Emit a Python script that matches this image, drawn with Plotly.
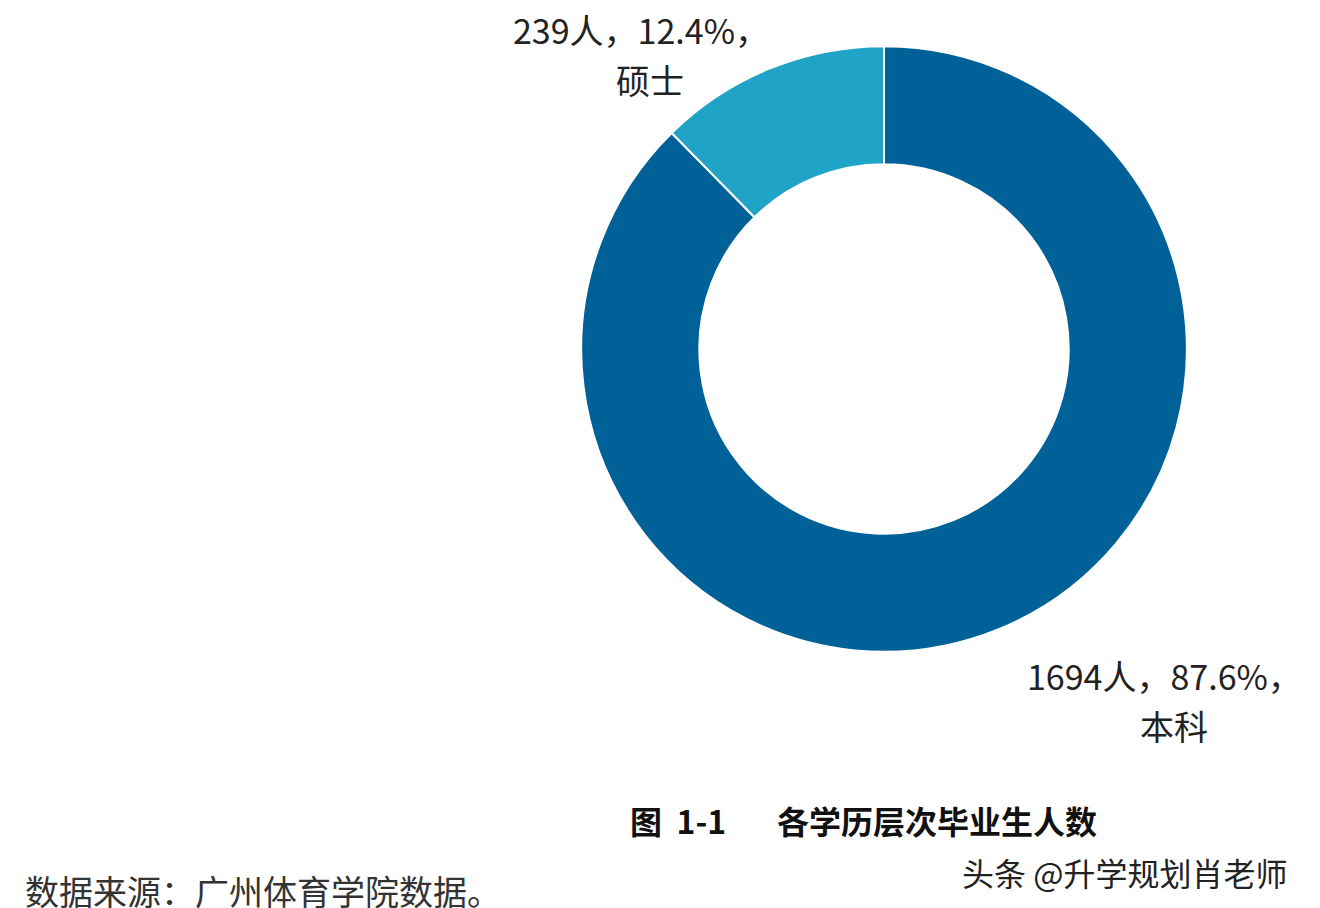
import plotly.graph_objects as go

labels = ["本科", "硕士"]
values = [1694, 239]
pcts = ["87.6%", "12.4%"]
colors = ["#006199", "#1fa3c6"]

fig = go.Figure(go.Pie(
    labels=labels, values=values, hole=0.61, sort=False, direction="clockwise",
    rotation=0, marker=dict(colors=colors, line=dict(color="white", width=2)),
    textinfo="none", hoverinfo="label+value",
    domain=dict(x=[0.4341, 0.8932], y=[0.291, 0.958]), showlegend=False))

F = "Noto Sans CJK SC"
ann = [
    (503, 22, f"{values[1]}人，{pcts[1]}，", 34, "#222", False, "left"),
    (606, 72, labels[1], 34, "#222", False, "left"),
    (1017, 667, f"{values[0]}人，{pcts[0]}，", 34, "#222", False, "left"),
    (1130, 717, labels[0], 34, "#222", False, "left"),
    (620, 812, "图  1-1       各学历层次毕业生人数", 32, "#111", True, "left"),
    (15, 882, "数据来源：广州体育学院数据。", 34, "#333", False, "left"),
    (952, 864, "头条 @升学规划肖老师", 32, "#222", False, "left"),
]
for x, y, t, s, c, b, a in ann:
    fig.add_annotation(x=x/1320, y=1-y/908, xref="paper", yref="paper", text=f"<b>{t}</b>" if b else t,
                       showarrow=False, font=dict(family=F, size=s, color=c), xanchor=a, yanchor="middle")

fig.update_layout(width=1320, height=908, margin=dict(l=0, r=0, t=0, b=0),
                  paper_bgcolor="white", plot_bgcolor="white")
fig.write_html("out.html")
